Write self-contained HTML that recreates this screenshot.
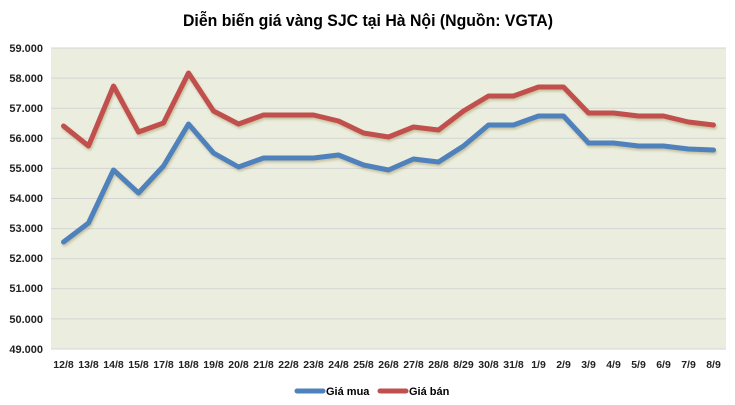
<!DOCTYPE html>
<html><head><meta charset="utf-8"><style>
html,body{margin:0;padding:0;background:#fff}
svg{display:block;font-family:"Liberation Sans",sans-serif}
</style></head><body>
<svg width="735" height="405" xmlns="http://www.w3.org/2000/svg">
<defs><filter id="sh" x="-5%" y="-20%" width="110%" height="140%"><feDropShadow dx="1" dy="2" stdDeviation="1.2" flood-color="#9a8a50" flood-opacity="0.45"/></filter></defs>
<text x="368" y="26" text-anchor="middle" font-weight="bold" font-size="17" textLength="370" lengthAdjust="spacingAndGlyphs">Diễn biến giá vàng SJC tại Hà Nội (Nguồn: VGTA)</text>
<rect x="51" y="48" width="675" height="301" fill="#ebeedf"/>
<g stroke="#d4d4d4" stroke-width="1">
<line x1="51" x2="726" y1="48" y2="48"/><line x1="51" x2="726" y1="78.1" y2="78.1"/><line x1="51" x2="726" y1="108.2" y2="108.2"/><line x1="51" x2="726" y1="138.3" y2="138.3"/><line x1="51" x2="726" y1="168.4" y2="168.4"/><line x1="51" x2="726" y1="198.5" y2="198.5"/><line x1="51" x2="726" y1="228.6" y2="228.6"/><line x1="51" x2="726" y1="258.7" y2="258.7"/><line x1="51" x2="726" y1="288.8" y2="288.8"/><line x1="51" x2="726" y1="318.9" y2="318.9"/><line x1="51" x2="726" y1="349" y2="349"/>
</g>
<g font-size="11" font-weight="bold" text-anchor="end" fill="#222">
<text x="43" y="52">59.000</text><text x="43" y="82">58.000</text><text x="43" y="112">57.000</text><text x="43" y="142">56.000</text><text x="43" y="172">55.000</text><text x="43" y="202">54.000</text><text x="43" y="232">53.000</text><text x="43" y="262">52.000</text><text x="43" y="292">51.000</text><text x="43" y="323">50.000</text><text x="43" y="353">49.000</text>
</g>
<g font-size="10.5" font-weight="bold" text-anchor="middle" fill="#222">
<text x="63.5" y="368">12/8</text><text x="88.5" y="368">13/8</text><text x="113.5" y="368">14/8</text><text x="138.5" y="368">15/8</text><text x="163.5" y="368">17/8</text><text x="188.5" y="368">18/8</text><text x="213.5" y="368">19/8</text><text x="238.5" y="368">20/8</text><text x="263.5" y="368">21/8</text><text x="288.5" y="368">22/8</text><text x="313.5" y="368">23/8</text><text x="338.5" y="368">24/8</text><text x="363.5" y="368">25/8</text><text x="388.5" y="368">26/8</text><text x="413.5" y="368">27/8</text><text x="438.5" y="368">28/8</text><text x="463.5" y="368">8/29</text><text x="488.5" y="368">30/8</text><text x="513.5" y="368">31/8</text><text x="538.5" y="368">1/9</text><text x="563.5" y="368">2/9</text><text x="588.5" y="368">3/9</text><text x="613.5" y="368">4/9</text><text x="638.5" y="368">5/9</text><text x="663.5" y="368">6/9</text><text x="688.5" y="368">7/9</text><text x="713.5" y="368">8/9</text>
</g>
<g fill="none" stroke-width="5" stroke-linejoin="round" stroke-linecap="round" filter="url(#sh)">
<polyline stroke="#c0504d" points="63.5,126 88.5,146 113.5,86 138.5,132 163.5,123 188.5,73 213.5,111 238.5,124 263.5,115 288.5,115 313.5,115 338.5,121 363.5,133 388.5,137 413.5,127 438.5,130 463.5,111 488.5,96 513.5,96 538.5,87 563.5,87 588.5,113 613.5,113 638.5,116 663.5,116 688.5,122 713.5,125"/>
<polyline stroke="#4f81bd" points="63.5,242 88.5,223 113.5,170 138.5,193 163.5,166 188.5,124 213.5,153 238.5,167 263.5,158 288.5,158 313.5,158 338.5,155 363.5,165 388.5,170 413.5,159 438.5,162 463.5,146 488.5,125 513.5,125 538.5,116 563.5,116 588.5,143 613.5,143 638.5,146 663.5,146 688.5,149 713.5,150"/>
</g>
<line x1="297" x2="323" y1="391" y2="391" stroke="#4f81bd" stroke-width="5" stroke-linecap="round"/>
<text x="326" y="395" font-size="11" font-weight="bold">Giá mua</text>
<line x1="380" x2="406" y1="391" y2="391" stroke="#c0504d" stroke-width="5" stroke-linecap="round"/>
<text x="409" y="395" font-size="11" font-weight="bold">Giá bán</text>
</svg>
</body></html>
